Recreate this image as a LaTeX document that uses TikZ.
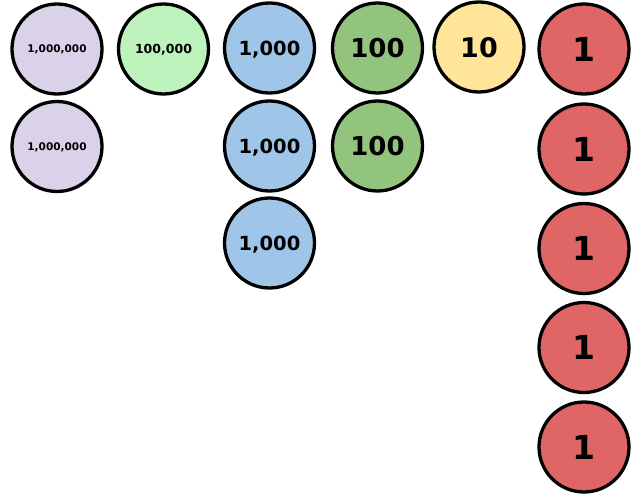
\documentclass[tikz,border=0pt]{standalone}
\usepackage{fontspec}
\setmainfont{DejaVu Sans}
\definecolor{lav}{HTML}{D9D2E9}
\definecolor{lgreen}{HTML}{BDF2BD}
\definecolor{lblue}{HTML}{9FC5E8}
\definecolor{mgreen}{HTML}{93C47D}
\definecolor{lyellow}{HTML}{FFE599}
\definecolor{lred}{HTML}{E06666}
\begin{document}
\begin{tikzpicture}[x=1pt,y=-1pt,
  coin/.style={circle,draw=black,line width=3.3pt,minimum size=90pt,inner sep=0pt,text depth=0pt,font=\bfseries},
  million/.style={coin,fill=lav,font=\bfseries\fontsize{10.5}{11}\selectfont},
  hthousand/.style={coin,fill=lgreen,font=\bfseries\fontsize{12.5}{13}\selectfont},
  thousand/.style={coin,fill=lblue,font=\bfseries\fontsize{19.5}{20}\selectfont},
  hundred/.style={coin,fill=mgreen,font=\bfseries\fontsize{26}{28}\selectfont},
  ten/.style={coin,fill=lyellow,font=\bfseries\fontsize{27}{28}\selectfont},
  one/.style={coin,fill=lred,font=\bfseries\fontsize{33}{34}\selectfont}]
\useasboundingbox (0,0) rectangle (640,497);
\node[million] (m1) at (57,49) {1,000,000};
\node[million] (m2) at (57,146.5) {1,000,000};
\node[hthousand] (h1) at (163.5,49) {100,000};
\node[thousand] (t1) at (269.5,48) {1,000};
\node[thousand] (t2) at (269.5,146) {1,000};
\node[thousand] (t3) at (269.5,243) {1,000};
\node[hundred] (c1) at (377.5,48) {100};
\node[hundred] (c2) at (377.5,146) {100};
\node[ten] (d1) at (479,47) {10};
\node[one] (o1) at (584,49) {1};
\node[one] (o2) at (584,149) {1};
\node[one] (o3) at (584,248.5) {1};
\node[one] (o4) at (584,347.5) {1};
\node[one] (o5) at (584,447) {1};
\end{tikzpicture}
\end{document}
